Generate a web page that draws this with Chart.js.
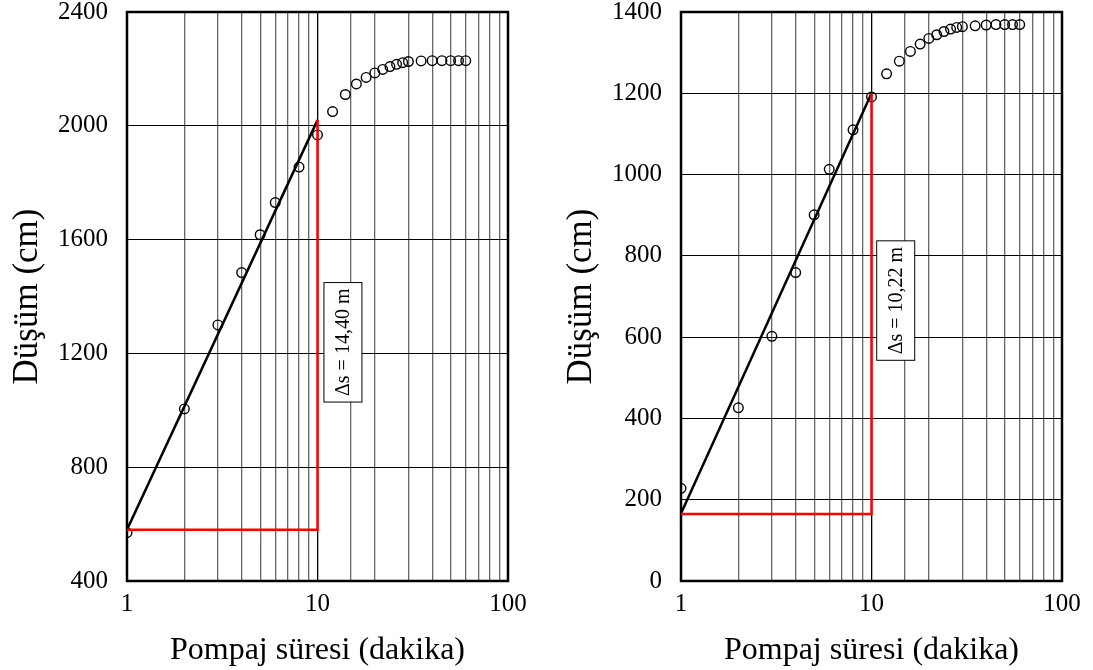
<!DOCTYPE html>
<html>
<head>
  <meta charset="UTF-8">
  <title>Pompaj testi - düşüm</title>
  <script src="https://cdn.jsdelivr.net/npm/chart.js"></script>
  <style>
    body { margin: 0; background: #fff; overflow: hidden; }
    .kutu { position: absolute; top: -22px; height: 692px; }
  </style>
</head>
<body>
  <div class="kutu" style="left:0; width:546px;"><canvas id="solGrafik"></canvas></div>
  <div class="kutu" style="left:554px; width:539px;"><canvas id="sagGrafik"></canvas></div>

  <script>
    // pompaj süresi (dakika) - iki grafikte de aynı
    const sure = [1, 2, 3, 4, 5, 6, 8, 10, 12, 14, 16, 18, 20, 22, 24, 26, 28, 30, 35, 40, 45, 50, 55, 60];

    // sol grafik: düşüm (cm)
    const dusumSol = [570, 1005, 1300, 1484, 1617, 1730, 1855, 1968, 2050, 2110, 2147, 2170, 2186, 2198, 2208, 2216, 2222, 2226, 2228, 2229, 2229, 2229, 2229, 2229];
    const egimSolX = [1, 10];
    const egimSolY = [580, 2020];
    const kirmiziSolX = [1, 10, 10];
    const kirmiziSolY = [580, 580, 2020];
    const etiketSol = 'Δs = 14,40 m';
    const etiketSolYer = [13.6, 1239];   // [dakika, cm]
    const yEksenSol = [400, 2400, 400];  // min, max, adım

    // sağ grafik: düşüm (cm)
    const dusumSag = [228, 426, 602, 759, 901, 1013, 1110, 1191, 1248, 1279, 1303, 1321, 1335, 1344, 1352, 1358, 1362, 1364, 1366, 1368, 1369, 1369, 1369, 1369];
    const egimSagX = [1, 10];
    const egimSagY = [166, 1200];
    const kirmiziSagX = [1, 10, 10];
    const kirmiziSagY = [165, 165, 1200];
    const etiketSag = 'Δs = 10,22 m';
    const etiketSagYer = [13.4, 690];
    const yEksenSag = [0, 1400, 200];

    const xTikleri = [1, 10, 100];
    const yaziTipi = '"Liberation Serif", "Times New Roman", serif';

    function noktalar(xs, ys) {
      return xs.map((x, i) => ({ x: x, y: ys[i] }));
    }

    // çerçeve + döndürülmüş etiket kutusu
    const cizimEklentisi = {
      id: 'cerceve',
      beforeDatasetsDraw(chart) {
        const a = chart.chartArea;
        const ctx = chart.ctx;
        ctx.save();
        ctx.strokeStyle = '#000';
        ctx.lineWidth = 2.5;
        ctx.strokeRect(a.left, a.top, a.right - a.left, a.bottom - a.top);
        ctx.restore();
      },
      afterDatasetsDraw(chart) {
        const et = chart.options.plugins.cerceve;
        const ctx = chart.ctx;
        const px = chart.scales.x.getPixelForValue(et.yer[0]);
        const py = chart.scales.y.getPixelForValue(et.yer[1]);
        ctx.save();
        ctx.translate(px, py);
        ctx.rotate(-Math.PI / 2);
        ctx.font = '20px ' + yaziTipi;
        const w = ctx.measureText(et.yazi).width + 12;
        const h = 38;
        ctx.fillStyle = '#fff';
        ctx.fillRect(-w / 2, -h / 2, w, h);
        ctx.strokeStyle = '#000';
        ctx.lineWidth = 1;
        ctx.strokeRect(-w / 2, -h / 2, w, h);
        ctx.fillStyle = '#000';
        ctx.textAlign = 'center';
        ctx.textBaseline = 'middle';
        ctx.fillText(et.yazi, 0, 1);
        ctx.restore();
      }
    };

    function grafikCiz(id, dusum, egX, egY, kX, kY, yazi, yer, yEksen, sagBosluk) {
      new Chart(document.getElementById(id), {
        type: 'scatter',
        data: {
          datasets: [
            {
              data: noktalar(kX, kY),
              showLine: true,
              borderColor: '#ff0000',
              borderWidth: 2.5,
              pointRadius: 0,
              fill: false
            },
            {
              data: noktalar(egX, egY),
              showLine: true,
              borderColor: '#000',
              borderWidth: 2.5,
              pointRadius: 0,
              fill: false
            },
            {
              data: noktalar(sure, dusum),
              showLine: false,
              pointStyle: 'circle',
              pointRadius: 4.8,
              borderWidth: 1.4,
              borderColor: '#000',
              backgroundColor: 'rgba(0,0,0,0)'
            }
          ]
        },
        options: {
          responsive: true,
          maintainAspectRatio: false,
          animation: false,
          layout: { padding: { top: 11, right: sagBosluk, bottom: 0, left: 0 } },
          plugins: {
            legend: { display: false },
            tooltip: { enabled: false },
            cerceve: { yazi: yazi, yer: yer }
          },
          scales: {
            x: {
              type: 'logarithmic',
              min: 1,
              max: 100,
              afterFit: (s) => { s.height = 89; },
              grid: {
                drawTicks: false,
                color: (c) => xTikleri.includes(c.tick.value) ? '#000' : '#666',
                lineWidth: 1.3
              },
              border: { display: false },
              ticks: {
                autoSkip: false,
                maxRotation: 0,
                padding: 8,
                color: '#000',
                font: { family: yaziTipi, size: 25 },
                callback: (v) => xTikleri.includes(v) ? String(v) : ''
              },
              title: {
                display: true,
                text: 'Pompaj süresi (dakika)',
                color: '#000',
                font: { family: yaziTipi, size: 32 },
                padding: { top: 0, bottom: 0 }
              }
            },
            y: {
              min: yEksen[0],
              max: yEksen[1],
              afterFit: (s) => { s.width = 127; },
              grid: { drawTicks: false, color: '#000', lineWidth: 1 },
              border: { display: false },
              ticks: {
                stepSize: yEksen[2],
                padding: 19,
                color: '#000',
                font: { family: yaziTipi, size: 25 },
                callback: (v) => String(v)
              },
              title: {
                display: true,
                text: 'Düşüm (cm)',
                color: '#000',
                font: { family: yaziTipi, size: 35 },
                padding: { top: 7, bottom: 0 }
              }
            }
          }
        },
        plugins: [cizimEklentisi]
      });
    }

    grafikCiz('solGrafik', dusumSol, egimSolX, egimSolY, kirmiziSolX, kirmiziSolY, etiketSol, etiketSolYer, yEksenSol, 38);
    grafikCiz('sagGrafik', dusumSag, egimSagX, egimSagY, kirmiziSagX, kirmiziSagY, etiketSag, etiketSagYer, yEksenSag, 31);
  </script>
</body>
</html>
